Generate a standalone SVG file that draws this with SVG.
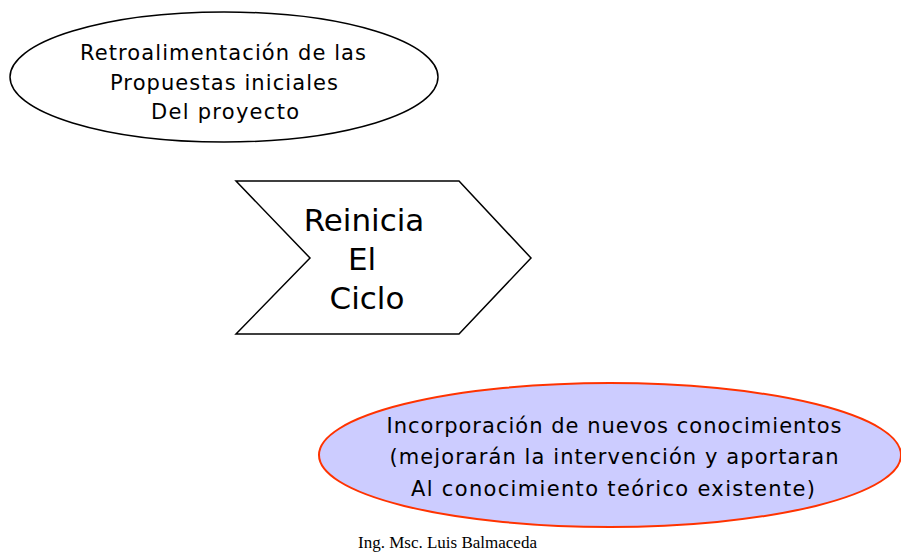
<svg xmlns="http://www.w3.org/2000/svg" width="901" height="553" viewBox="0 0 901 553">
<style>
.t{font-family:"DejaVu Sans","Liberation Sans",sans-serif;fill:#000;text-anchor:middle}
.shape{fill:#fff;stroke:#000;stroke-width:1.5}
</style>
<rect width="901" height="553" fill="#fff"/>
<g id="retro">
<ellipse class="shape" cx="224" cy="77" rx="214" ry="65"/>
<text class="t" font-size="21" x="223" y="60" textLength="286" lengthAdjust="spacing">Retroalimentación de las</text>
<text class="t" font-size="21" x="224" y="90" textLength="228" lengthAdjust="spacing">Propuestas iniciales</text>
<text class="t" font-size="21" x="225" y="119" textLength="148" lengthAdjust="spacing">Del proyecto</text>
</g>
<g id="reinicia">
<polygon class="shape" points="236,181 459,181 531,258 459,334 236,334 310,258"/>
<text class="t" font-size="31" x="364" y="231">Reinicia</text>
<text class="t" font-size="31" x="362" y="270">El</text>
<text class="t" font-size="31" x="367" y="309">Ciclo</text>
</g>
<g id="incorporacion">
<ellipse cx="610" cy="455" rx="291" ry="72" fill="#CCCCFF" stroke="#FF3300" stroke-width="2"/>
<text class="t" font-size="21" x="614" y="433" textLength="455" lengthAdjust="spacing">Incorporación de nuevos conocimientos</text>
<text class="t" font-size="21" x="614" y="464" textLength="449" lengthAdjust="spacing">(mejorarán la intervención y aportaran</text>
<text class="t" font-size="21" x="613" y="496" textLength="404" lengthAdjust="spacing">Al conocimiento teórico existente)</text>
</g>
<text font-family="Liberation Serif,serif" font-size="17" x="358" y="548">Ing. Msc. Luis Balmaceda</text>
<g id="connectors"></g>
</svg>
